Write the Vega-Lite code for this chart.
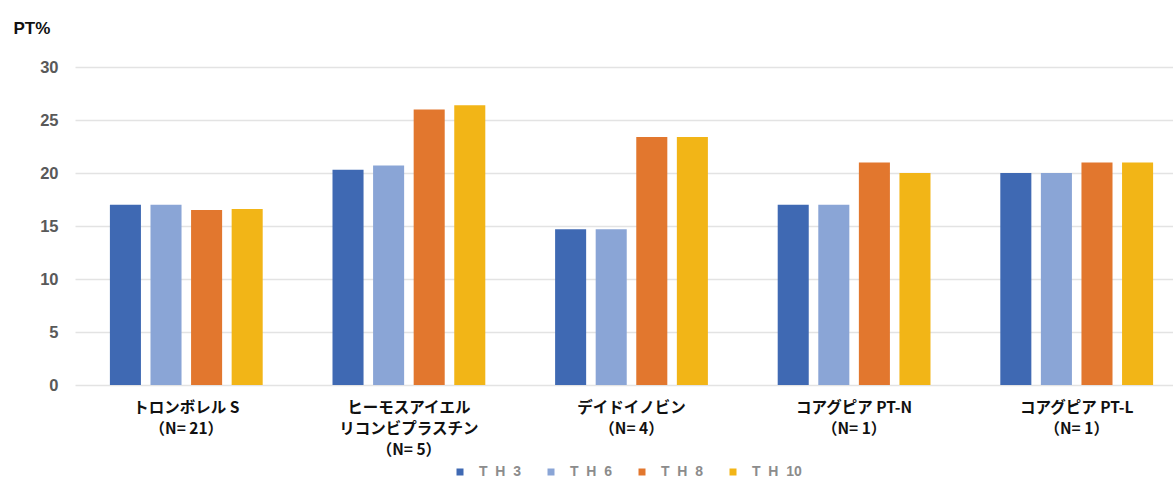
{
  "$schema": "https://vega.github.io/schema/vega-lite/v6.json",
  "width": 1098,
  "height": 318,
  "autosize": "none",
  "padding": {"left": 75, "top": 67, "right": 0, "bottom": 94},
  "background": "white",
  "data": {
    "values": [
      {"product": "トロンボレル S|（N= 21）", "series": "TH3", "pt": 17.0},
      {"product": "トロンボレル S|（N= 21）", "series": "TH6", "pt": 17.0},
      {"product": "トロンボレル S|（N= 21）", "series": "TH8", "pt": 16.5},
      {"product": "トロンボレル S|（N= 21）", "series": "TH10", "pt": 16.6},
      {"product": "ヒーモスアイエル|リコンビプラスチン|（N= 5）", "series": "TH3", "pt": 20.3},
      {"product": "ヒーモスアイエル|リコンビプラスチン|（N= 5）", "series": "TH6", "pt": 20.7},
      {"product": "ヒーモスアイエル|リコンビプラスチン|（N= 5）", "series": "TH8", "pt": 26.0},
      {"product": "ヒーモスアイエル|リコンビプラスチン|（N= 5）", "series": "TH10", "pt": 26.4},
      {"product": "デイドイノビン|（N= 4）", "series": "TH3", "pt": 14.7},
      {"product": "デイドイノビン|（N= 4）", "series": "TH6", "pt": 14.7},
      {"product": "デイドイノビン|（N= 4）", "series": "TH8", "pt": 23.4},
      {"product": "デイドイノビン|（N= 4）", "series": "TH10", "pt": 23.4},
      {"product": "コアグピア PT-N|（N= 1）", "series": "TH3", "pt": 17.0},
      {"product": "コアグピア PT-N|（N= 1）", "series": "TH6", "pt": 17.0},
      {"product": "コアグピア PT-N|（N= 1）", "series": "TH8", "pt": 21.0},
      {"product": "コアグピア PT-N|（N= 1）", "series": "TH10", "pt": 20.0},
      {"product": "コアグピア PT-L|（N= 1）", "series": "TH3", "pt": 20.0},
      {"product": "コアグピア PT-L|（N= 1）", "series": "TH6", "pt": 20.0},
      {"product": "コアグピア PT-L|（N= 1）", "series": "TH8", "pt": 21.0},
      {"product": "コアグピア PT-L|（N= 1）", "series": "TH10", "pt": 21.0}
    ]
  },
  "mark": {"type": "bar"},
  "encoding": {
    "x": {
      "field": "product",
      "type": "nominal",
      "sort": null,
      "scale": {"range": [0, 1113], "paddingInner": 0, "paddingOuter": 0},
      "axis": {
        "title": null,
        "labelAngle": 0,
        "domain": false,
        "ticks": false,
        "labelPadding": 15,
        "labelExpr": "split(datum.label, '|')",
        "labelFont": "Noto Sans CJK JP",
        "labelFontWeight": "bold",
        "labelFontSize": 15.5,
        "labelLineHeight": 21,
        "labelColor": "#111111",
        "labelBaseline": "top"
      }
    },
    "xOffset": {
      "field": "series",
      "type": "nominal",
      "sort": ["TH3", "TH6", "TH8", "TH10"],
      "scale": {"paddingInner": 0.235, "paddingOuter": 0.86}
    },
    "y": {
      "field": "pt",
      "type": "quantitative",
      "scale": {"domain": [0, 30]},
      "axis": {
        "title": "PT%",
        "titleAngle": 0,
        "titleX": -62,
        "titleY": -39,
        "titleAlign": "left",
        "titleBaseline": "middle",
        "titleFont": "Liberation Sans",
        "titleFontWeight": "bold",
        "titleFontSize": 17,
        "titleColor": "#111111",
        "values": [0, 5, 10, 15, 20, 25, 30],
        "domain": false,
        "ticks": false,
        "labelPadding": 17,
        "labelFont": "Liberation Sans",
        "labelFontWeight": "bold",
        "labelFontSize": 16.5,
        "labelColor": "#595959",
        "gridColor": "#e3e3e3",
        "gridWidth": 1.5
      }
    },
    "color": {
      "field": "series",
      "type": "nominal",
      "sort": ["TH3", "TH6", "TH8", "TH10"],
      "scale": {
        "domain": ["TH3", "TH6", "TH8", "TH10"],
        "range": ["#3f69b3", "#8aa5d6", "#e2772e", "#f2b517"]
      },
      "legend": {
        "title": null,
        "orient": "none",
        "direction": "horizontal",
        "legendX": 378,
        "legendY": 398,
        "symbolType": "square",
        "symbolSize": 49,
        "symbolOpacity": 1,
        "labelExpr": "replace(replace(datum.label, 'T', 'T\u00a0\u00a0'), 'H', 'H\u00a0\u00a0')",
        "labelFont": "Liberation Sans",
        "labelFontWeight": "bold",
        "labelFontSize": 14,
        "labelColor": "#8c8c8c",
        "labelOffset": 12,
        "columnPadding": 22
      }
    }
  },
  "config": {
    "view": {"stroke": null}
  }
}
